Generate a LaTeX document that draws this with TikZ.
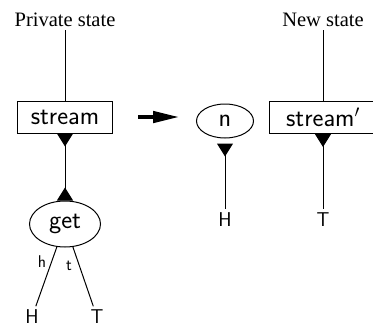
\documentclass[tikz,border=0pt]{standalone}
\usepackage{fontspec}
\setmainfont{Liberation Serif}
\usetikzlibrary{arrows.meta,shapes.geometric}
\tikzset{
  tb/.tip={Triangle[reversed,length=13pt,width=16pt]},
  lbl/.style={font=\fontsize{26}{30}\selectfont\sffamily},
  box/.style={draw, lbl, minimum height=32pt, inner sep=0pt},
  oval/.style={draw, ellipse, lbl, inner sep=0pt},
  term/.style={font=\fontsize{20}{24}\selectfont\sffamily},
  edgelbl/.style={font=\fontsize{17}{20}\selectfont\sffamily, inner sep=1pt},
  titletext/.style={font=\fontsize{20.5}{24}\selectfont, anchor=base},
  bigarrow/.style={line width=4.5pt, -{Triangle[length=27pt,width=11pt]}}
}
\begin{document}
\begin{tikzpicture}[x=1pt,y=1pt,line width=1pt]
\useasboundingbox (0,0) rectangle (373,-327);
% titles
\node[titletext] (ps) at (65,-26) {Private state};
\node[titletext] (ns) at (323,-26) {New state};
% boxes
\node[box, minimum width=95pt] (stream) at (65,-117) {stream};
\node[box, minimum width=108pt] (streamp) at (323,-117.5) {stream$'$};
\node[oval, minimum width=57pt, minimum height=34pt] (n) at (225,-121) {n};
\node[oval, minimum width=71pt, minimum height=46pt] (get) at (65,-224) {get};
% terminals
\node[term] (H1) at (32,-317) {H};
\node[term] (T1) at (97,-317) {T};
\node[term] (H2) at (225,-220) {H};
\node[term] (T2) at (323,-220) {T};
% connectors
\draw (ps.south) -- (stream.north);
\draw (ns.south) -- (streamp.north);
\draw[{tb}-{tb}] (stream.south) -- (get.north);
\draw[{tb}-] ([yshift=-5pt]n.south) -- (H2);
\draw[{tb}-] (streamp.south) -- (T2);
\draw (get) -- node[edgelbl, pos=0.25, left=4pt] {h} (H1);
\draw (get) -- node[edgelbl, pos=0.32, left=6pt] {t} (T1);
\draw[bigarrow] ([xshift=25pt]stream.east) -- ([xshift=-16pt]stream.east -| n.west);
\end{tikzpicture}
\end{document}
